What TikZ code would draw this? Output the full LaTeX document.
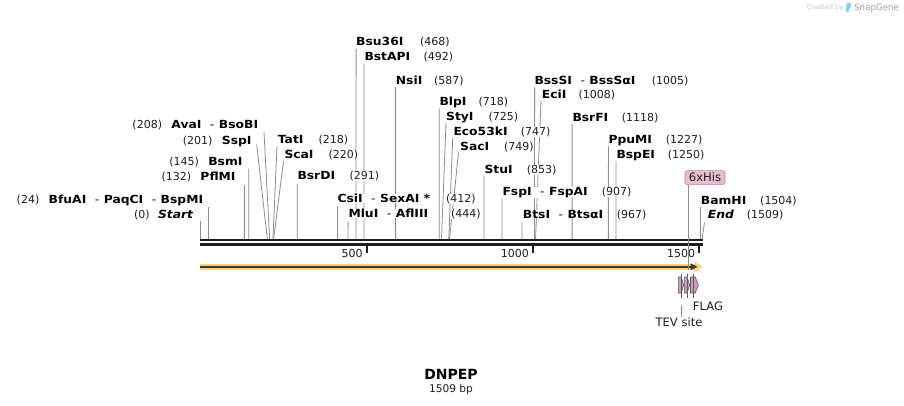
\documentclass[tikz,border=0pt]{standalone}
\usepackage{fontspec}
\setmainfont{DejaVu Sans}
\newfontfamily\enzf{DejaVu Sans}[FakeStretch=1.1]
\usetikzlibrary{calc}
\pgfdeclarelayer{lines}
\pgfsetlayers{lines,main}
\definecolor{enzline}{HTML}{8C8C8C}
\definecolor{numcol}{HTML}{1E1E1E}
\definecolor{seqcol}{HTML}{1E1E1E}
\definecolor{orangeband}{HTML}{FDD07A}
\definecolor{arrowdark}{HTML}{3A3A3A}
\definecolor{featfill}{HTML}{C99FC0}
\definecolor{featdraw}{HTML}{5A5A5A}
\definecolor{hisfill}{HTML}{E6BCD0}
\definecolor{hisdraw}{HTML}{BC8CA8}
\definecolor{snapgray}{HTML}{9E9E9E}
\definecolor{snaplight}{HTML}{C6C6C6}
\definecolor{snapblue}{HTML}{8FD0F2}
\newcommand\hy{\hspace{8.5pt}{\mdseries -}\hspace{4.5pt}}
\tikzset{
  enz/.style={font=\enzf\bfseries\fontsize{11.2}{13}\selectfont, inner sep=0pt, anchor=base west, fill=white},
  enzL/.style={enz, anchor=base east},
  num/.style={font=\fontsize{11}{13}\selectfont, inner sep=0pt, anchor=base west, text=numcol, fill=white},
  numL/.style={num, anchor=base east},
  cut/.style={draw=enzline, line width=0.8pt},
  ticklbl/.style={font=\fontsize{11}{13}\selectfont, inner sep=0pt, anchor=base east, text=numcol},
  featshape/.style={fill=featfill, draw=featdraw, line width=0.6pt},
  featline/.style={draw=featdraw, line width=0.7pt},
  featlbl/.style={font=\fontsize{11.6}{13}\selectfont, inner sep=0pt, text=numcol},
}
\newcommand\sx[1]{200.5+#1*0.3324}
\begin{document}
\begin{tikzpicture}[x=1pt,y=-1pt]
\begin{pgfonlayer}{lines}
\fill[white] (0,0) rectangle (904,405);
\end{pgfonlayer}
\useasboundingbox (0,0) rectangle (904,405);

% ---------- sequence ----------
\coordinate (L0) at (200,240.3);
\coordinate (L1) at (703,240.3);
\coordinate (M0) at (200,244.7);
\coordinate (M1) at (703,244.7);
\draw[seqcol, line width=2.2pt] (L0) -- (L1);
\draw[seqcol, line width=3pt] (M0) -- (M1);

% ticks
\foreach \p/\t in {500/500,1000/1000,1500/1500}{
  \coordinate (tk\p) at ({\sx{\p}},246);
  \coordinate (tb\p) at ({\sx{\p}},253);
  \draw[seqcol, line width=1.8pt] (tk\p) -- (tb\p);
  \node[ticklbl] (tl\p) at ({\sx{\p}-3.8},257) {\t};
}

% ---------- enzyme sites (right-side labels) ----------
\foreach \id/\pos/\lx/\by/\tx/\ty/\nx/\txt in {
  bsu/468/356/45.7/356.1/48.5/420/Bsu36I,
  bst/492/364.3/60.7/364.0/63.5/423.3/BstAPI,
  nsi/587/395.7/84/395.6/87/434/NsiI,
  blp/718/439.3/105.5/439.2/108.5/478.3/BlpI,
  sty/725/446/120.5/446/123/488.3/StyI,
  eco/747/453.3/135.5/452.7/138/520.7/Eco53kI,
  sac/749/460/150.7/458.5/153/504/SacI,
  stu/853/484.3/173.3/484.0/176/526.7/StuI,
  fsp/907/502.3/195.5/502.0/198.5/601.7/{FspI\hy FspAI},
  bts/967/522.7/218.3/521.9/221.5/616.7/{BtsI\hy BtsαI},
  bss/1005/534.3/84/534.6/87.3/651.7/{BssSI\hy BssSαI},
  eci/1008/541.7/98.5/541/101/578.3/EciI,
  bsr/1118/572.3/121/572.1/123.5/621.7/BsrFI,
  ppu/1227/608.3/143.3/608.4/146/665.7/PpuMI,
  bspe/1250/616.3/158.7/616.0/161.5/667.7/BspEI,
  bam/1504/700.7/204/700.4/207/760/BamHI,
  tat/218/277.7/143.3/277/146/318.3/TatI,
  sca/220/284.3/158.5/283.5/161/328.3/ScaI,
  bsrd/291/297.3/179.8/297.2/183.5/349.3/BsrDI,
  csi/412/337.3/202.8/337.4/206.5/446/{CsiI\hy SexAI *},
  mlu/444/348.3/217.5/348.1/221.5/451/{MluI\hy AflIII}}{
  \node[enz] (n\id) at (\lx,\by) {\txt};
  \node[num] (k\id) at (\nx,\by) {(\pos)};
  \coordinate (t\id) at (\tx,\ty);
  \coordinate (s\id) at ({\sx{\pos}},239);
  \begin{pgfonlayer}{lines}
  \draw[cut] (t\id) -- (s\id);
  \end{pgfonlayer}
}
% End (italic)
\node[enz, font=\enzf\bfseries\itshape\fontsize{11.2}{13}\selectfont] (nend) at (707.7,218.3) {End};
\node[num] (kend) at (746.7,218.3) {(1509)};
\coordinate (tend) at (704.5,222.5);
\coordinate (send) at ({\sx{1509}},239);
\begin{pgfonlayer}{lines}
\draw[cut] (tend) -- (send);
\end{pgfonlayer}

% ---------- enzyme sites (left-side labels) ----------
\foreach \id/\pos/\rx/\by/\tx/\ty/\txt in {
  ava/208/258.3/128.5/264/132/{AvaI\hy BsoBI},
  ssp/201/251.7/144/256.7/144.5/SspI,
  bsm/145/242.7/165/248.7/168.5/BsmI,
  pfl/132/235.7/180.7/244.4/185/PflMI,
  bfu/24/203.3/203.5/208.5/207/{BfuAI\hy PaqCI\hy BspMI}}{
  \node[enzL] (n\id) at (\rx,\by) {\txt};
  \node[numL] (k\id) at ([xshift=-9pt]n\id.base west) {(\pos)};
  \coordinate (t\id) at (\tx,\ty);
  \coordinate (s\id) at ({\sx{\pos}},239);
  \begin{pgfonlayer}{lines}
  \draw[cut] (t\id) -- (s\id);
  \end{pgfonlayer}
}
\node[enzL, font=\enzf\bfseries\itshape\fontsize{11.2}{13}\selectfont] (nstart) at (193.3,218.3) {Start};
\node[numL] (kstart) at ([xshift=-8pt]nstart.base west) {(0)};
\coordinate (tstart) at (200.5,220.5);
\coordinate (sstart) at (200.5,239);
\begin{pgfonlayer}{lines}
\draw[cut] (tstart) -- (sstart);
\end{pgfonlayer}

% ---------- ORF arrow ----------
\coordinate (A0) at (200,266.8);
\coordinate (A1) at (696,266.8);
\coordinate (A2) at (692,266.8);
\draw[orangeband, line width=5.5pt] (A0) -- (A1);
\fill[orangeband] (694.5,261.3) -- (702.5,266.8) -- (694.5,272.3) -- cycle;
\draw[arrowdark, line width=2pt] (A0) -- (A2);
\fill[arrowdark] (690.5,263.3) -- (697.5,266.8) -- (690.5,270.3) -- cycle;

% ---------- features ----------
\filldraw[featshape] (678.3,277) -- (681.3,277) -- (683.6,285) -- (681.3,293) -- (678.3,293) -- cycle;
\filldraw[featshape] (684.3,277) -- (687.2,277) -- (689.5,285) -- (687.2,293) -- (684.3,293) -- cycle;
\filldraw[featshape] (690.5,277) -- (695.3,277) -- (698.3,285) -- (695.3,293) -- (690.5,293) -- cycle;
\foreach \x in {681.2,687.2,693.5}{
  \draw[featline] (\x,273.5) -- (\x,297.5);
}
% 6xHis label
\node[featlbl, fill=hisfill, draw=hisdraw, rounded corners=2.5pt, minimum width=40pt, minimum height=14pt, inner sep=0pt, line width=0.7pt] (his) at (705,177.6) {6xHis};
\coordinate (hisend) at (688.2,270);
\draw[cut] (his.south -| hisend) -- (hisend);
% TEV site / FLAG
\node[featlbl, anchor=base] (tev) at (679,326.7) {TEV site};
\coordinate (tevtop) at (681.3,305);
\coordinate (tevbot) at (681.3,317);
\draw[featline, draw=enzline] (tevtop) -- (tevbot);
\node[featlbl, anchor=base west] (flag) at (692.7,310.7) {FLAG};

% ---------- title ----------
\node[inner sep=0pt, anchor=base, font=\bfseries\fontsize{14}{16}\selectfont] (title) at (451,379) {DNPEP};
\node[inner sep=0pt, anchor=base, font=\fontsize{10.6}{12}\selectfont, text=numcol] (len) at (451,392.7) {1509 bp};

% ---------- watermark ----------
\node[inner sep=0pt, anchor=base west, font=\fontsize{6.6}{8}\selectfont, text=snaplight] (cby) at (806.7,9.6) {Created by};
\fill[snapblue, rounded corners=1.2pt] (846.3,2.8) rectangle (851,8.5);
\fill[snapblue] (846.3,6) rectangle (848.6,11.8);
\node[inner sep=0pt, anchor=base west, font=\fontsize{8.7}{10}\selectfont, text=snapgray] (sg) at (854,10.6) {SnapGene};
\end{tikzpicture}
\end{document}
